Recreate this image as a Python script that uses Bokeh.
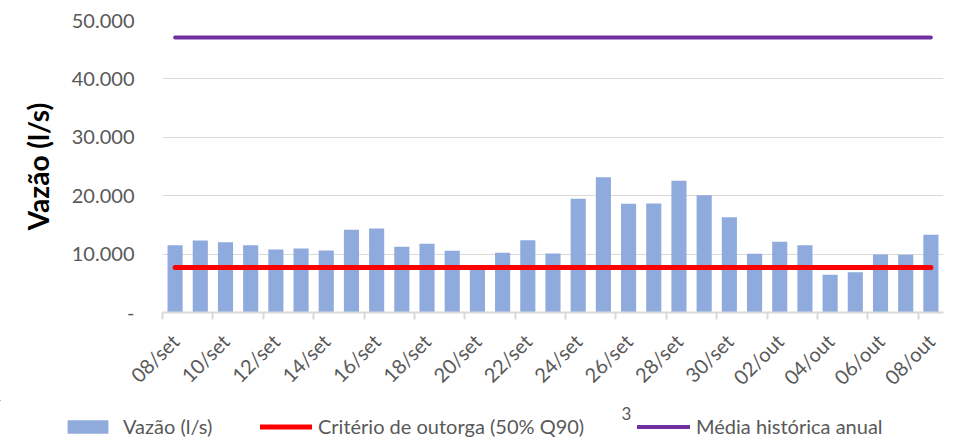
import math
from bokeh.plotting import figure
from bokeh.models import (ColumnDataSource, Range1d, FixedTicker, Legend, LegendItem, Label)
from bokeh.embed import file_html
from bokeh.resources import INLINE

# ---- data ----
dates = ["08/set", "09/set", "10/set", "11/set", "12/set", "13/set", "14/set", "15/set",
         "16/set", "17/set", "18/set", "19/set", "20/set", "21/set", "22/set", "23/set",
         "24/set", "25/set", "26/set", "27/set", "28/set", "29/set", "30/set",
         "01/out", "02/out", "03/out", "04/out", "05/out", "06/out", "07/out", "08/out"]
vazao = [11520, 12330, 12040, 11520, 10790, 10960, 10620, 14160,
         14380, 11250, 11760, 10560, 7600, 10220, 12380, 10100,
         19470, 23170, 18610, 18660, 22550, 20090, 16320,
         10050, 12100, 11520, 6450, 6900, 9930, 9880, 13300]
criterio = [7700] * len(dates)
media = [47100] * len(dates)
y_ticks = [0, 10000, 20000, 30000, 40000, 50000]
y_tick_labels = ["-", "10.000", "20.000", "30.000", "40.000", "50.000"]
series_names = ["Vazão (l/s)", "Critério de outorga (50% Q90)", "Média histórica anual"]
footnote = "3"

idx = list(range(len(dates)))
src = ColumnDataSource(dict(x=idx, vazao=vazao, criterio=criterio, media=media))

FONT = "Lato"
GRAY = "#595959"
BAR = "#8faadc"
RED = "#ff0000"
PURPLE = "#7030a0"

p = figure(width=959, height=400, output_backend="svg", toolbar_location=None,
           x_range=Range1d(-0.5, len(dates) - 0.5), y_range=Range1d(0, 50000),
           min_border_left=162, min_border_top=20, min_border_right=16, min_border_bottom=87)
p.outline_line_color = None
p.background_fill_color = "white"
p.border_fill_color = "white"

p.vbar(x="x", top="vazao", width=0.6, source=src, fill_color=BAR, line_color=None)
p.line(x="x", y="criterio", source=src, line_color=RED, line_width=5, line_cap="round")
p.line(x="x", y="media", source=src, line_color=PURPLE, line_width=4, line_cap="round")

# x axis
xa = p.xaxis[0]
xa.ticker = FixedTicker(ticks=idx[::2], minor_ticks=[i - 0.5 for i in idx[::2]])
xa.major_label_overrides = {i: dates[i] for i in idx}
xa.major_label_orientation = math.pi / 4
xa.major_label_text_font = FONT
xa.major_label_text_font_size = "20px"
xa.major_label_text_color = GRAY
xa.major_label_standoff = 18
xa.major_tick_out = 0
xa.major_tick_in = 0
xa.minor_tick_out = 7
xa.minor_tick_in = 0
xa.minor_tick_line_color = "#d9d9d9"
xa.minor_tick_line_width = 2
xa.axis_line_color = "#d9d9d9"
xa.axis_line_width = 2

# y axis
ya = p.yaxis[0]
ya.ticker = FixedTicker(ticks=y_ticks, minor_ticks=[])
ya.major_label_overrides = {t: l for t, l in zip(y_ticks, y_tick_labels)}
ya.major_label_text_font = FONT
ya.major_label_text_font_size = "20px"
ya.major_label_text_color = GRAY
ya.major_tick_out = 0
ya.major_tick_in = 0
ya.minor_tick_out = 0
ya.axis_line_color = None
ya.major_label_standoff = 28
ya.axis_label = "Vazão (l/s)"
ya.axis_label_text_font = FONT
ya.axis_label_text_font_style = "bold"
ya.axis_label_text_font_size = "28px"
ya.axis_label_text_color = "#000000"
ya.axis_label_standoff = 14

p.xgrid.grid_line_color = None
p.ygrid.grid_line_color = "#d9d9d9"
p.ygrid.grid_line_width = 1

# ---- legend strip (own figure; its glyph copies lie outside its view) ----
lg = figure(width=959, height=41, output_backend="svg", toolbar_location=None,
            x_axis_type=None, y_axis_type=None,
            x_range=Range1d(1000, 1001), y_range=Range1d(-2, -1),
            min_border_left=0, min_border_right=0, min_border_top=0, min_border_bottom=0)
lg.outline_line_color = None
lg.grid.visible = False
lg.background_fill_color = "white"
lg.border_fill_color = "white"
b2 = lg.vbar(x="x", top="vazao", width=0.6, source=src, fill_color=BAR, line_color=None)
r2 = lg.line(x="x", y="criterio", source=src, line_color=RED, line_width=5, line_cap="round")
m2 = lg.line(x="x", y="media", source=src, line_color=PURPLE, line_width=4, line_cap="round")

legend_specs = [(series_names[0], b2, (62, 3), 51, 10),
                (series_names[1], r2, (260, 3), 52, 6),
                (series_names[2], m2, (637, 3), 53, 6)]
for name, rend, loc, gw, stand in legend_specs:
    lg.add_layout(Legend(items=[LegendItem(label=name, renderers=[rend])],
                         orientation="horizontal", location=loc,
                         label_text_font=FONT, label_text_font_size="20px",
                         label_text_color=GRAY, glyph_width=gw, glyph_height=17,
                         label_standoff=stand, padding=0, margin=0,
                         border_line_color=None, background_fill_alpha=0))

lg.add_layout(Label(x=626, y=28, x_units="screen", y_units="screen", text=footnote,
                    text_font=FONT, text_font_size="17px", text_color=GRAY,
                    text_baseline="middle", text_align="center"))

open("out.html", "w").write(file_html([p, lg], INLINE))
